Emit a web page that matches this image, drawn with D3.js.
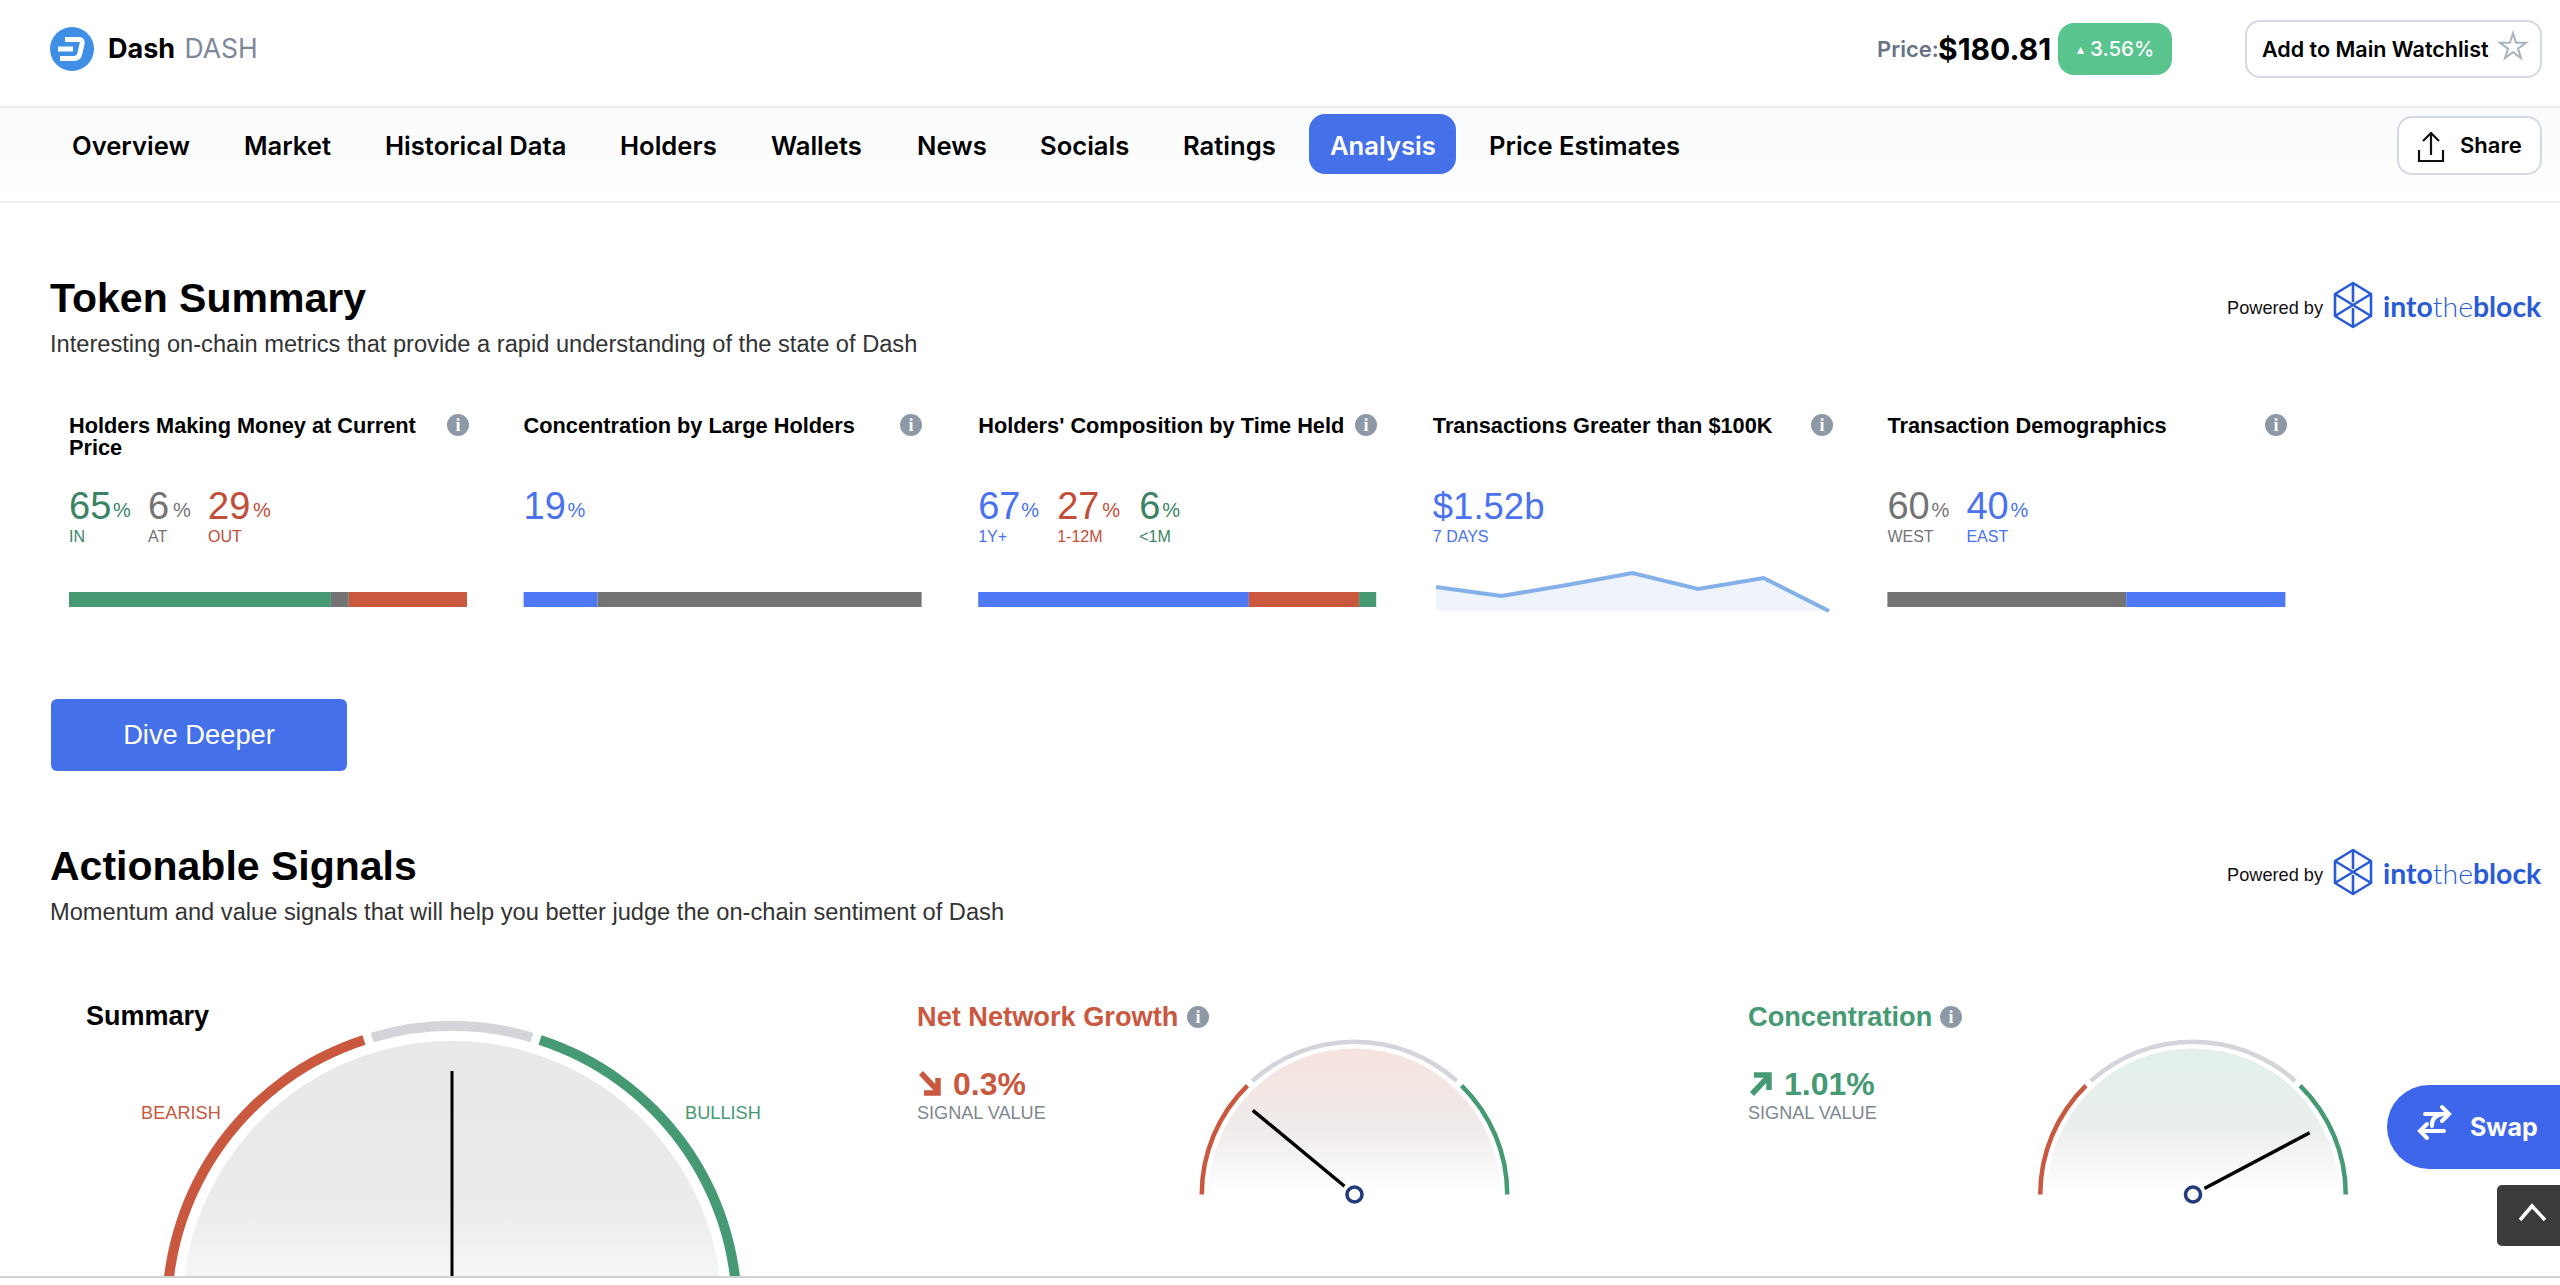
<!DOCTYPE html>
<html><head><meta charset="utf-8">
<script src="https://cdnjs.cloudflare.com/ajax/libs/d3/7.8.5/d3.min.js"></script>
<style>html,body{margin:0;padding:0;background:#fff;overflow:hidden}svg{display:block}</style>
</head><body><svg id="c" width="2560" height="1285" viewBox="0 0 2560 1285"></svg>
<script>
// ---- data ----
const navItems = ["Overview","Market","Historical Data","Holders","Wallets","News","Socials","Ratings","Analysis","Price Estimates"];
const navStarts = [72,244,385,620,771,917,1040,1183,1330,1489];
const cardTitles = [["Holders Making Money at Current","Price"],["Concentration by Large Holders"],["Holders' Composition by Time Held"],["Transactions Greater than $100K"],["Transaction Demographics"]];
const holdersMoneyVals = [65,6,29], holdersMoneyLabels = ["IN","AT","OUT"];
const holdersMoneyBar = [65.8,4.5,29.7];
const concentrationVals = [19], concentrationLabels = [""];
const concentrationBar = [18.6,81.4];
const timeHeldVals = [67,27,6], timeHeldLabels = ["1Y+","1-12M","<1M"];
const timeHeldBar = [68,27.7,4.3];
const demographicsVals = [60,40], demographicsLabels = ["WEST","EAST"];
const demographicsBar = [60,40];
const largeTxTotal = "$1.52b", largeTxLabel = "7 DAYS";
const largeTxSeries = [24,15,26,38,22,33,0];
const gaugeNames = ["Summary","Net Network Growth","Concentration"];
const gaugePositions = [0,-0.56,0.69];
const signalValues = ["0.3%","1.01%"];
const signalLabel = "SIGNAL VALUE";

const C = {green:"#459a74",greenT:"#3a8465",gray:"#747474",red:"#c9583f",blue:"#4f78f5",blueT:"#4a72f0",ink:"#000",btn:"#4470ea"};
const SANS = "'Liberation Sans',Arial,sans-serif", INTER = "Inter,sans-serif";
const svg = d3.select("#c");
svg.append("rect").attr("width",2560).attr("height",1285).attr("fill","#fff");
const defs = svg.append("defs");
function vgrad(id,stops){const g=defs.append("linearGradient").attr("id",id).attr("x1",0).attr("x2",0).attr("y1",0).attr("y2",1);
  stops.forEach(s=>g.append("stop").attr("offset",s[0]).attr("stop-color",s[1]));}
vgrad("navBg",[[0,"#f9fafb"],[1,"#ffffff"]]);
vgrad("fillGray",[[0,"#e7e9e9"],[0.6,"#eaecec"],[0.87,"#f5f6f6"],[1,"#f8f8f8"]]);
vgrad("fillRed",[[0,"#f6e3df"],[0.55,"#efebea"],[1,"#ffffff"]]);
vgrad("fillGreen",[[0,"#e2f0e9"],[0.55,"#ebefed"],[1,"#ffffff"]]);
function t(x,y,s,o={}){return svg.append("text").attr("x",x).attr("y",y).attr("dy",".35em").text(s)
  .attr("font-family",o.font||SANS).attr("font-size",o.size||20).attr("font-weight",o.weight||400)
  .attr("fill",o.fill||C.ink).attr("text-anchor",o.anchor||"start");}
function rr(x,y,w,h,r,f,st){return svg.append("rect").attr("x",x).attr("y",y).attr("width",w).attr("height",h).attr("rx",r)
  .attr("fill",f).attr("stroke",st||"none").attr("stroke-width",st?2:0);}
function info(x,y){svg.append("circle").attr("cx",x).attr("cy",y).attr("r",11).attr("fill","#8d99a6");
  t(x,y,"i",{size:18,weight:700,fill:"#fff",anchor:"middle",font:"'Liberation Serif',serif"});}

// header
svg.append("circle").attr("cx",72).attr("cy",49).attr("r",22).attr("fill","#3f8fe6");
svg.append("path").attr("transform","translate(72,49)").attr("fill","none").attr("stroke","#fff").attr("stroke-width",5)
  .attr("d","M-7,-9.5H7Q11,-9.5 10,-5L8,4Q7,9.5 2,9.5H-12");
svg.append("path").attr("transform","translate(72,49)").attr("stroke","#fff").attr("stroke-width",5).attr("d","M-14,0H1");
t(108,49,"Dash",{size:27,weight:700,font:INTER});
t(184.5,49,"DASH",{size:26.5,fill:"#7d8899",font:INTER});
t(1877,49,"Price:",{size:22,weight:600,fill:"#687385",font:INTER});
t(1938,49,"$180.81",{size:30,weight:700,font:INTER});
rr(2058,23,114,52,16,"#5ac48e");
t(2077,49,"▴",{size:14,fill:"#fff",font:INTER});
t(2090,49,"3.56%",{size:20.5,weight:500,fill:"#fff",font:INTER});
rr(2246,21,295,56,14,"#fff","#d3d9e4");
t(2262,49,"Add to Main Watchlist",{size:21.5,weight:600,font:INTER});
svg.append("path").attr("transform","translate(2513,47)").attr("fill","none").attr("stroke","#aab2bf").attr("stroke-width",2)
  .attr("d",d3.symbol(d3.symbolStar,210)());

// nav
svg.append("rect").attr("y",107).attr("width",2560).attr("height",95).attr("fill","url(#navBg)");
svg.append("rect").attr("y",106).attr("width",2560).attr("height",2).attr("fill","#e9ebef");
svg.append("rect").attr("y",201).attr("width",2560).attr("height",2).attr("fill","#eef0f3");
rr(1309,114,147,60,16,C.btn);
navItems.forEach((n,i)=>t(navStarts[i],146,n,{size:25.6,weight:600,font:INTER,fill:n==="Analysis"?"#fff":"#000"}));
rr(2398,117,143,57,14,"#fff","#d3d9e4");
svg.append("path").attr("fill","none").attr("stroke","#111").attr("stroke-width",2.2).attr("d","M2431,155V134M2423,141L2431,133L2439,141M2419,150V161H2443V150");
t(2460,145,"Share",{size:22,weight:600,font:INTER});

// section headings
function powered(cy){
  t(2227,cy,"Powered by",{size:18.2,fill:"#111"});
  const g=svg.append("g").attr("transform",`translate(2353,${cy-3})`).attr("fill","none").attr("stroke","#2a5bd7").attr("stroke-width",2.6).attr("stroke-linejoin","round");
  g.append("path").attr("d","M0,-22L18,-11V11L0,22L-18,11V-11Z");
  g.append("path").attr("d","M-18,-11L18,11M18,-11L-18,11M0,-22V-3M0,3V22");
  const x=t(2383,cy-1,"",{size:28.4,fill:"#2a5bd7",font:"Lato,sans-serif",weight:700});
  x.append("tspan").text("into");x.append("tspan").attr("font-weight",300).text("the");x.append("tspan").text("block");
}
t(50,298,"Token Summary",{size:41,weight:700});
t(50,344,"Interesting on-chain metrics that provide a rapid understanding of the state of Dash",{size:23.65,fill:"#333"});
powered(308);
t(50,866,"Actionable Signals",{size:41,weight:700});
t(50,912,"Momentum and value signals that will help you better judge the on-chain sentiment of Dash",{size:23.65,fill:"#333"});
powered(875);
rr(51,699,296,72,6,C.btn);
t(199,734,"Dive Deeper",{size:27.3,fill:"#fff",anchor:"middle"});

// cards
const cardX = d3.range(5).map(i=>69+i*454.6), barW = 398, barTop = 592, barH = 15;
const infoX = [458,911,1366,1822,2276];
cardTitles.forEach((ls,i)=>{
  ls.forEach((l,j)=>t(cardX[i],425+j*22,l,{size:21.75,weight:700}));
  info(infoX[i],425);
});
function readout(x,items){
  items.forEach(it=>{
    t(x+it.dx,506,it.v,{size:38,fill:it.c});
    t(x+it.px,510,"%",{size:20,fill:it.c});
    if(it.l) t(x+it.dx,536,it.l,{size:16,fill:it.c});
  });
}
readout(cardX[0],[
 {v:holdersMoneyVals[0],l:holdersMoneyLabels[0],c:C.greenT,dx:0,px:44},
 {v:holdersMoneyVals[1],l:holdersMoneyLabels[1],c:C.gray,dx:79,px:104},
 {v:holdersMoneyVals[2],l:holdersMoneyLabels[2],c:"#c24d38",dx:139,px:184}]);
readout(cardX[1],[{v:concentrationVals[0],l:concentrationLabels[0],c:C.blueT,dx:0,px:44}]);
readout(cardX[2],[
 {v:timeHeldVals[0],l:timeHeldLabels[0],c:C.blueT,dx:0,px:43},
 {v:timeHeldVals[1],l:timeHeldLabels[1],c:"#c24d38",dx:79,px:124},
 {v:timeHeldVals[2],l:timeHeldLabels[2],c:C.greenT,dx:161,px:184}]);
readout(cardX[4],[
 {v:demographicsVals[0],l:demographicsLabels[0],c:C.gray,dx:0,px:44},
 {v:demographicsVals[1],l:demographicsLabels[1],c:C.blueT,dx:79,px:123}]);
t(cardX[3],506,largeTxTotal,{size:36.5,fill:C.blueT});
t(cardX[3],536,largeTxLabel,{size:16,fill:C.blueT});

function stacked(i,vals,cols){
  const x=d3.scaleLinear().domain([0,d3.sum(vals)]).range([cardX[i],cardX[i]+barW]);
  let acc=0;
  svg.append("g").selectAll("rect").data(vals).join("rect")
    .attr("x",d=>{const v=x(acc);acc+=d;return v;})
    .attr("y",barTop).attr("height",barH).attr("width",d=>x(d)-x(0)).attr("fill",(d,k)=>cols[k]);
}
stacked(0,holdersMoneyBar,[C.green,C.gray,C.red]);
stacked(1,concentrationBar,[C.blue,C.gray]);
stacked(2,timeHeldBar,[C.blue,C.red,C.green]);
stacked(4,demographicsBar,[C.gray,C.blue]);

// sparkline
const sx=d3.scaleLinear().domain([0,largeTxSeries.length-1]).range([1436,1829]);
const sy=d3.scaleLinear().domain([0,38]).range([611,573]);
svg.append("path").attr("fill","#eff4fb").attr("d",d3.area().x((d,i)=>sx(i)).y0(sy(0)).y1(d=>sy(d))(largeTxSeries));
svg.append("path").attr("fill","none").attr("stroke","#84b0ea").attr("stroke-width",4).attr("d",d3.line().x((d,i)=>sx(i)).y(d=>sy(d))(largeTxSeries));

// gauges
const ang=d3.scaleLinear().domain([-1,1]).range([-Math.PI/2,Math.PI/2]);
function gauge(o){
  const cid="clip"+Math.round(o.cx);
  defs.append("clipPath").attr("id",cid).append("rect").attr("width",2560).attr("height",o.clipY);
  const g=svg.append("g").attr("clip-path",`url(#${cid})`).append("g").attr("transform",`translate(${o.cx},${o.cy})`);
  g.append("path").attr("fill",o.fill).attr("d",d3.arc().innerRadius(0).outerRadius(o.rFill).startAngle(-Math.PI/2).endAngle(Math.PI/2)());
  const arc=d3.arc().innerRadius(o.r-o.w).outerRadius(o.r);
  o.segs.forEach(s=>g.append("path").attr("fill",s[2]).attr("d",arc({startAngle:s[0],endAngle:s[1]})));
  const a=ang(o.pos);
  const ln=d3.scaleLinear().domain([0,1]).range([0,o.len]);
  g.append("line").attr("x1",0).attr("y1",0).attr("x2",Math.sin(a)*ln(1)).attr("y2",-Math.cos(a)*ln(1))
    .attr("stroke","#000").attr("stroke-width",o.nw);
  if(o.hub){
    g.append("circle").attr("r",13).attr("fill","#fff");
    g.append("circle").attr("r",7.5).attr("fill","#fff").attr("stroke","#233a7c").attr("stroke-width",3.6);
  }
}
const deg=d=>d*Math.PI/180;
gauge({cx:452,cy:1311,r:290,w:10,rFill:270,pos:gaugePositions[0],len:240,nw:3,clipY:1277,fill:"url(#fillGray)",
  segs:[[deg(-90),deg(-18),C.red],[deg(-16.3),deg(16.3),"#d3d5da"],[deg(18),deg(90),C.green]]});
const smallSegs=[[deg(-90),deg(-44.5),C.red],[deg(-42),deg(42),"#d3d5da"],[deg(44.5),deg(90),C.green]];
gauge({cx:1354.5,cy:1194.5,r:155,w:4.5,rFill:146,pos:gaugePositions[1],len:132,nw:3.5,clipY:1285,fill:"url(#fillRed)",segs:smallSegs,hub:true});
gauge({cx:2193,cy:1194.5,r:155,w:4.5,rFill:146,pos:gaugePositions[2],len:132,nw:3.5,clipY:1285,fill:"url(#fillGreen)",segs:smallSegs,hub:true});

t(86,1016,gaugeNames[0],{size:27,weight:700});
t(141,1113,"BEARISH",{size:18.2,fill:C.red});
t(685,1113,"BULLISH",{size:18.2,fill:C.green});
t(917,1016,gaugeNames[1],{size:27.2,weight:700,fill:C.red});
info(1198,1017);
t(1748,1016,gaugeNames[2],{size:27.2,weight:700,fill:C.green});
info(1951,1017);
svg.append("path").attr("fill","none").attr("stroke",C.red).attr("stroke-width",5.5).attr("d","M921,1073L938,1091M924,1093H938V1078");
t(953,1084,signalValues[0],{size:32,weight:700,fill:C.red});
t(917,1113,signalLabel,{size:18.1,fill:"#7d8790"});
svg.append("path").attr("fill","none").attr("stroke",C.green).attr("stroke-width",5.5).attr("d","M1752,1094L1769,1076M1754,1075H1769V1090");
t(1784,1084,signalValues[1],{size:32,weight:700,fill:C.green});
t(1748,1113,signalLabel,{size:18.1,fill:"#7d8790"});

// floating controls
svg.append("rect").attr("x",2387).attr("y",1085).attr("width",230).attr("height",84).attr("rx",42).attr("fill","#3d66ea");
svg.append("path").attr("fill","none").attr("stroke","#fff").attr("stroke-width",4).attr("stroke-linecap","round")
 .attr("d","M2425,1114H2449M2442,1107L2449,1114L2442,1121M2443,1114Q2431,1116 2432,1126M2420,1131H2444M2427,1124L2420,1131L2427,1138");
t(2470,1127,"Swap",{size:25,weight:700,fill:"#fff",font:INTER});
rr(2497,1185,70,61,5,"#3a3b3d");
svg.append("path").attr("fill","none").attr("stroke","#fff").attr("stroke-width",3.5).attr("d","M2520,1220L2532,1206L2545,1220");
svg.append("rect").attr("y",1277).attr("width",2560).attr("height",8).attr("fill","#fff");
svg.append("rect").attr("y",1276).attr("width",2560).attr("height",2).attr("fill","#cfd1d3");
</script></body></html>
